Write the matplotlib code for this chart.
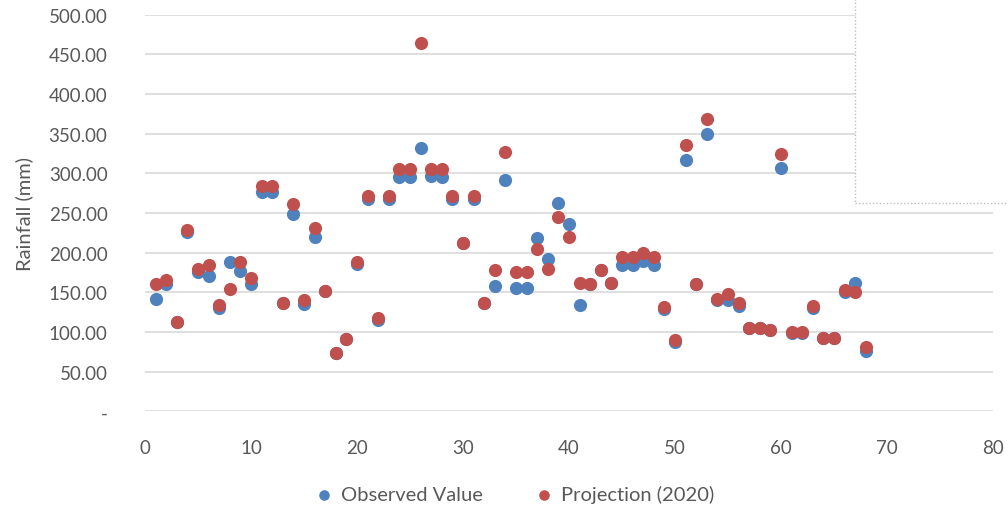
import matplotlib
matplotlib.use("Agg")
import matplotlib.pyplot as plt
from matplotlib.patches import Rectangle
from matplotlib.ticker import FixedLocator, FuncFormatter

# Monthly rainfall: observed vs. 2020 projection
months = list(range(1, 69))
observed = [
    141, 161, 113, 226, 176, 170, 130, 188, 177, 161,
    277, 277, 137, 249, 135, 220, 152, 73, 91, 186,
    268, 115, 268, 296, 296, 332, 297, 296, 268, 212,
    268, 137, 158, 291, 156, 156, 218, 192, 263, 236,
    134, 160, 178, 162, 184, 184, 190, 184, 129, 87,
    317, 160, 350, 140, 140, 133, 105, 105, 103, 307,
    99, 99, 130, 93, 93, 150, 162, 76,
]
projection = [
    160, 166, 113, 229, 180, 184, 134, 154, 188, 168,
    284, 284, 137, 261, 140, 231, 152, 73, 91, 188,
    271, 118, 271, 305, 305, 464, 305, 305, 271, 212,
    271, 137, 178, 327, 176, 176, 205, 180, 245, 220,
    162, 160, 178, 162, 194, 194, 200, 194, 132, 90,
    336, 160, 368, 142, 148, 136, 105, 105, 103, 324,
    100, 100, 133, 93, 93, 153, 151, 81,
]
series_names = ["Observed Value", "Projection (2020)"]
y_ticks = [0, 50, 100, 150, 200, 250, 300, 350, 400, 450, 500]
x_ticks = [0, 10, 20, 30, 40, 50, 60, 70, 80]

plt.rcParams["font.family"] = ["Lato", "DejaVu Sans"]
text_color = "#595959"
grid_color = "#d9d9d9"

fig = plt.figure(figsize=(10.08, 5.10), dpi=100)
ax = fig.add_axes([145 / 1008, 1 - 412.3 / 510, (993 - 145) / 1008, (412.3 - 15.7) / 510])

ax.scatter(months, observed, s=90, color="#4f81bd", label=series_names[0],
           zorder=3, linewidths=0)
ax.scatter(months, projection, s=90, color="#c0504d", label=series_names[1],
           zorder=4, linewidths=0)

ax.set_xlim(0, 80)
ax.set_ylim(0, 500)
ax.xaxis.set_major_locator(FixedLocator(x_ticks))
ax.yaxis.set_major_locator(FixedLocator(y_ticks))
ax.yaxis.set_major_formatter(FuncFormatter(lambda v, _: "-" if v == 0 else f"{v:.2f}"))

ax.grid(axis="y", color=grid_color, linewidth=1.2, zorder=0)
ax.set_axisbelow(True)
for side in ["top", "right", "left", "bottom"]:
    ax.spines[side].set_visible(False)
ax.tick_params(axis="both", length=0, labelsize=13.5, labelcolor=text_color)
ax.tick_params(axis="y", pad=27)
ax.tick_params(axis="x", pad=20)

ax.set_ylabel("Rainfall (mm)", fontsize=14.5, color=text_color, labelpad=11)

leg = fig.legend(loc="center", bbox_to_anchor=(0.505, 1 - 495 / 510),
                 ncol=2, frameon=False, fontsize=14.5, markerscale=0.8,
                 handletextpad=-0.15, columnspacing=2.0, labelcolor=text_color)

# Blank box with dotted outline in the upper-right corner
fig.add_artist(Rectangle((855 / 1008, 1 - 204 / 510), 0.3, 0.5,
                         transform=fig.transFigure, facecolor="white",
                         edgecolor="#bfbfbf", linestyle=(0, (1, 1.5)),
                         linewidth=1, zorder=5))

fig.savefig("out.png", dpi=100)
